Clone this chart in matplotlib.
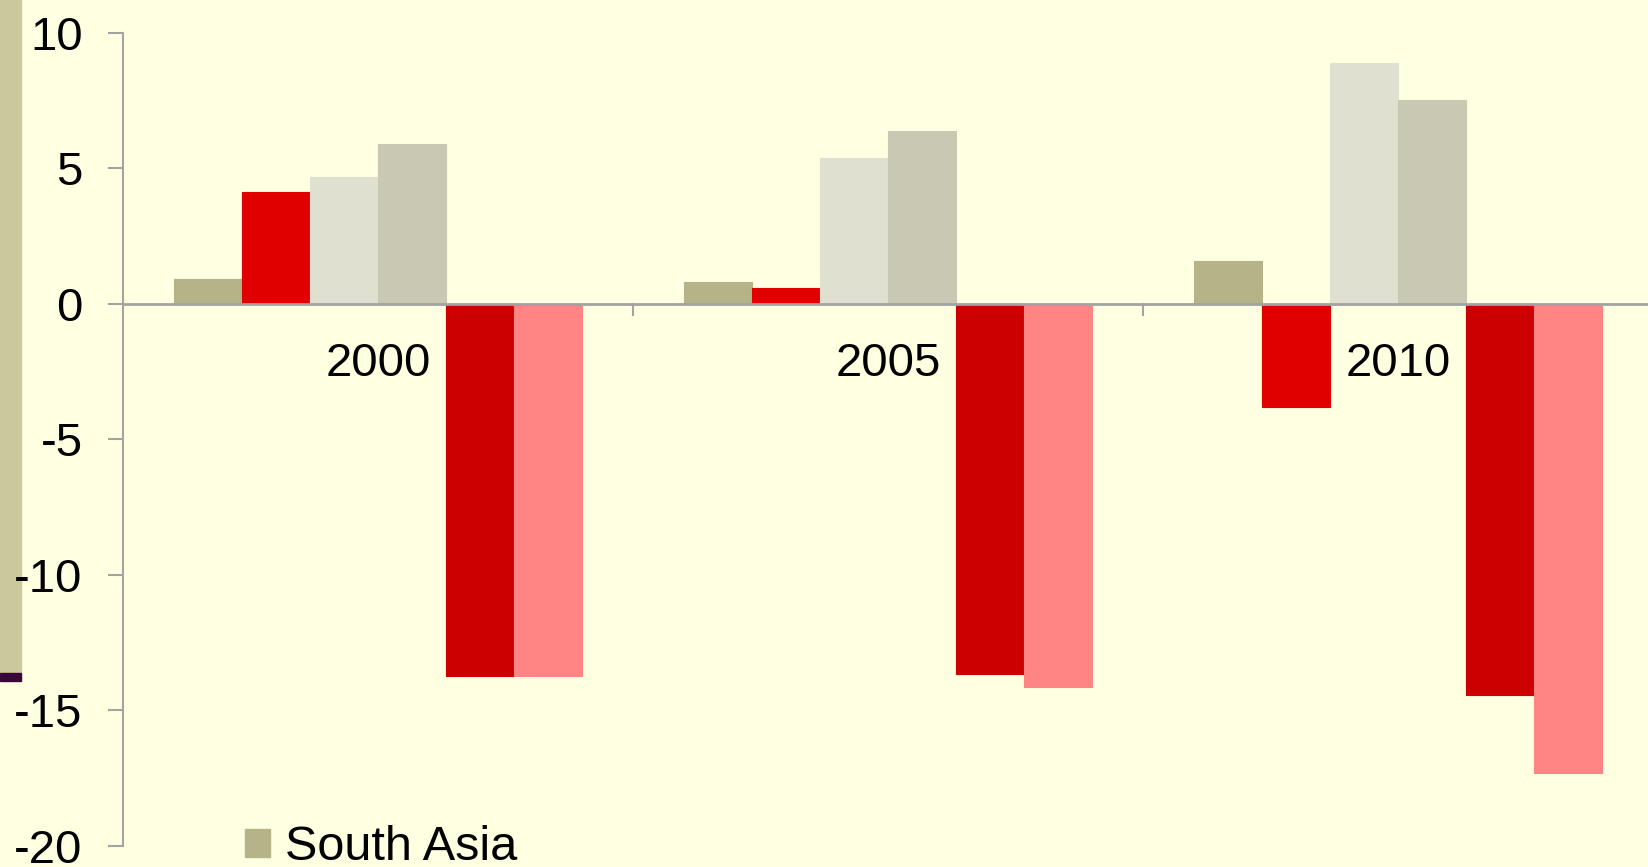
import matplotlib
matplotlib.use("Agg")
import matplotlib.pyplot as plt
from matplotlib.patches import Rectangle, Patch
import numpy as np

# Data
categories = ["2000", "2005", "2010"]
south_asia = [0.91, 0.80, 1.56]
series_red = [4.11, 0.58, -3.81]
series_light = [4.68, 5.38, 8.89]
series_grey = [5.90, 6.38, 7.51]
series_dark_red = [-13.73, -13.64, -14.44]
series_pink = [-13.73, -14.15, -17.32]
y_ticks = [10, 5, 0, -5, -10, -15, -20]

series = [south_asia, series_red, series_light, series_grey,
          series_dark_red, series_pink]
colors = ["#B5B388", "#E00000", "#E0E0D1", "#C9C8B2", "#CC0000", "#FF8585"]

bg = "#FFFFE1"
W, H = 1648, 867
fam = ["Liberation Sans", "DejaVu Sans"]
plt.rcParams["font.family"] = fam

fig = plt.figure(figsize=(W / 100, H / 100), dpi=100, facecolor=bg)
ax = fig.add_axes([123 / W, 1 - 846 / H, (1653 - 123) / W, (846 - 32.6) / H])
ax.set_facecolor(bg)
ax.patch.set_visible(False)

fs = 34

n = len(series)
width = 1 / 7.5
x = np.arange(len(categories))
for i, (vals, c) in enumerate(zip(series, colors)):
    ax.bar(x + (i - (n - 1) / 2) * width, vals, width=width, color=c,
           edgecolor=c, linewidth=0.8, zorder=2,
           label="South Asia" if i == 0 else "_nolegend_")

ax.set_xlim(-0.5, 2.5)
ax.set_ylim(-20, 10)

axis_col = "#A3A3A0"
for s in ["top", "right", "bottom"]:
    ax.spines[s].set_visible(False)
ax.spines["left"].set_color(axis_col)
ax.spines["left"].set_linewidth(1.5)
ax.axhline(0, color=axis_col, linewidth=2, zorder=3)

ax.set_yticks(y_ticks)
ax.set_yticklabels([str(t) for t in y_ticks], fontsize=fs, family=fam)
ax.tick_params(axis="y", direction="out", length=11, width=1.5, color=axis_col, pad=18)

# category boundary ticks on the zero line
ax.set_xticks([])
for b in [0.5, 1.5]:
    ax.plot([b, b], [0, -0.4], color=axis_col, linewidth=1.5, zorder=3, clip_on=False)
for xi, lab in zip(x, categories):
    ax.annotate(lab, (xi, 0), xytext=(0, -38), textcoords="offset pixels",
                ha="center", va="top", fontsize=fs, family=fam, zorder=4)

# left decorative strip
fig.patches.append(Rectangle((0, 1 - 673 / H), 21 / W, 673 / H,
                             transform=fig.transFigure, color="#CBC99B", zorder=-2))
fig.patches.append(Rectangle((0, 1 - 681 / H), 21 / W, 8 / H,
                             transform=fig.transFigure, color="#3A0838", zorder=-2))

leg = fig.legend(handles=[Patch(color=colors[0], label="South Asia")],
                 loc="center left", bbox_to_anchor=(245 / W, 1 - 848 / H),
                 frameon=False, handlelength=0.52, handleheight=0.52,
                 handletextpad=0.3, borderpad=0, borderaxespad=0,
                 prop={"family": fam, "size": 35})

fig.savefig("out.png", dpi=100, facecolor=bg)
